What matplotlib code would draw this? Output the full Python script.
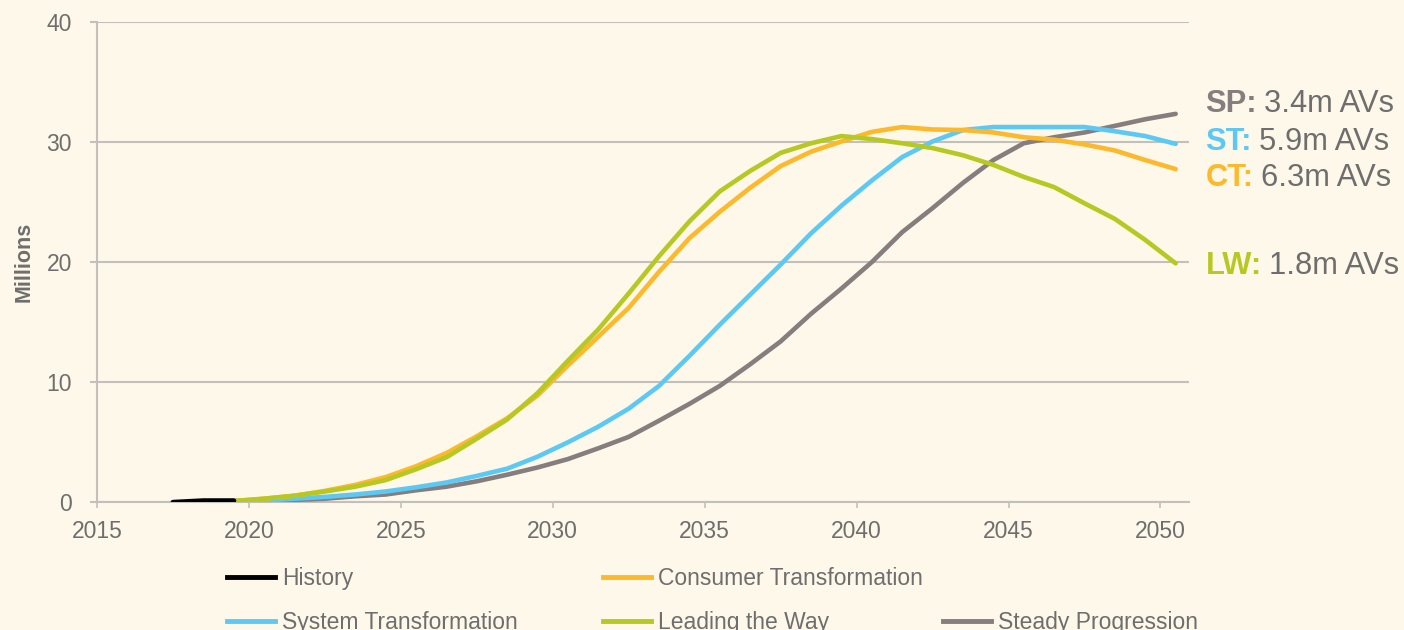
import matplotlib.pyplot as plt
from matplotlib.lines import Line2D

plt.rcParams['font.family'] = ['Liberation Sans', 'DejaVu Sans']

# data (millions of AVs), each value sits mid-year on the axis
hist_years = [2017, 2018, 2019]
history = [0.0, 0.13, 0.13]

years = list(range(2019, 2051))
ct = [0.1, 0.3, 0.55, 0.95, 1.45, 2.1, 3.0, 4.1, 5.5, 7.0, 8.9, 11.4, 13.8, 16.2, 19.2, 22.0,
      24.2, 26.2, 28.0, 29.2, 30.05, 30.85, 31.25, 31.05, 31.0, 30.8, 30.4, 30.2, 29.8, 29.3, 28.5, 27.75]
lw = [0.1, 0.3, 0.55, 0.9, 1.3, 1.85, 2.75, 3.75, 5.3, 6.9, 9.1, 11.8, 14.4, 17.4, 20.5, 23.4,
      25.9, 27.6, 29.1, 29.9, 30.5, 30.25, 29.9, 29.5, 28.9, 28.1, 27.1, 26.25, 24.9, 23.6, 21.85, 19.9]
st = [0.1, 0.15, 0.3, 0.45, 0.65, 0.9, 1.25, 1.65, 2.2, 2.8, 3.8, 5.0, 6.3, 7.8, 9.7, 12.2,
      14.8, 17.3, 19.8, 22.4, 24.7, 26.8, 28.75, 30.05, 31.0, 31.25, 31.25, 31.25, 31.25, 30.9, 30.5, 29.85]
sp = [0.1, 0.12, 0.2, 0.3, 0.5, 0.65, 1.0, 1.3, 1.75, 2.3, 2.9, 3.6, 4.5, 5.45, 6.8, 8.2,
      9.7, 11.5, 13.4, 15.7, 17.8, 20.0, 22.5, 24.5, 26.6, 28.5, 29.9, 30.4, 30.8, 31.35, 31.9, 32.35]

end_tags = ["SP:", "ST:", "CT:", "LW:"]
end_texts = ["3.4m AVs", "5.9m AVs", "6.3m AVs", "1.8m AVs"]
end_label_y = [33.2, 30.0, 27.0, 19.7]

BG = '#fdf8e9'
TXT = '#6e6e6e'
GRID = '#c2c0bd'
C_HIST = '#000000'
C_CT = '#fdb92c'
C_ST = '#5cc9f5'
C_LW = '#b7c823'
C_SP = '#857d7e'

fig = plt.figure(figsize=(14.04, 6.3), dpi=100, facecolor=BG)
ax = fig.add_axes([0.0691, 0.2027, 0.778, 0.7624])
ax.set_facecolor(BG)

mid = lambda ys: [y + 0.5 for y in ys]
lw_px = 3.3
ax.plot(mid(years), sp, color=C_SP, lw=lw_px, solid_capstyle='round', zorder=3)
ax.plot(mid(years), st, color=C_ST, lw=lw_px, solid_capstyle='round', zorder=4)
ax.plot(mid(years), ct, color=C_CT, lw=lw_px, solid_capstyle='round', zorder=5)
ax.plot(mid(years), lw, color=C_LW, lw=lw_px, solid_capstyle='round', zorder=6)
ax.plot(mid(hist_years), history, color=C_HIST, lw=3.6, solid_capstyle='round', zorder=7)

ax.set_xlim(2015, 2050.95)
ax.set_ylim(0, 40)
ax.set_xticks(range(2015, 2051, 5))
ax.set_yticks(range(0, 41, 10))
ax.yaxis.grid(True, color=GRID, lw=1.5)
ax.set_axisbelow(True)
for s in ['top', 'right']:
    ax.spines[s].set_visible(False)
for s in ['left', 'bottom']:
    ax.spines[s].set_color(GRID)
    ax.spines[s].set_linewidth(1.5)
ax.tick_params(axis='x', length=4, width=1.2, color=GRID, pad=9, labelsize=16.5, labelcolor=TXT)
ax.tick_params(axis='y', length=5, width=1.5, color=GRID, pad=13, labelsize=16.5, labelcolor=TXT)

ax.set_ylabel("Millions", fontsize=15.5, fontweight='bold', color=TXT)
ax.yaxis.set_label_coords(-0.057, 0.5)

# end-of-line labels
tag_colors = [C_SP, C_ST, C_CT, C_LW]
for tag, txt, y, c in zip(end_tags, end_texts, end_label_y, tag_colors):
    t = ax.text(2051.48, y, tag, fontsize=22.2, fontweight='bold', color=c,
                va='center', ha='left', clip_on=False)
    ax.annotate(txt, xy=(1, 0), xycoords=t, xytext=(5, 0), textcoords='offset points',
                fontsize=22.2, color=TXT, va='bottom', ha='left', annotation_clip=False)

# legend in three separate columns
def handle(c):
    return Line2D([], [], color=c, lw=3.5)

blank = Line2D([], [], color='none')
cols = [
    ([handle(C_HIST), handle(C_ST)], ["History", "System Transformation"], 227),
    ([handle(C_CT), handle(C_LW)], ["Consumer Transformation", "Leading the Way"], 603),
    ([blank, handle(C_SP)], [" ", "Steady Progression"], 943),
]
for hs, labels, xpx in cols:
    fig.legend(hs, labels, loc='upper left', bbox_to_anchor=(xpx / 1404, 1 - 567 / 630),
               frameon=False, fontsize=16.5, labelcolor=TXT, handlelength=2.1,
               handletextpad=0.3, labelspacing=0.9, borderpad=0, borderaxespad=0)

plt.savefig("out.png", dpi=100, facecolor=BG)
